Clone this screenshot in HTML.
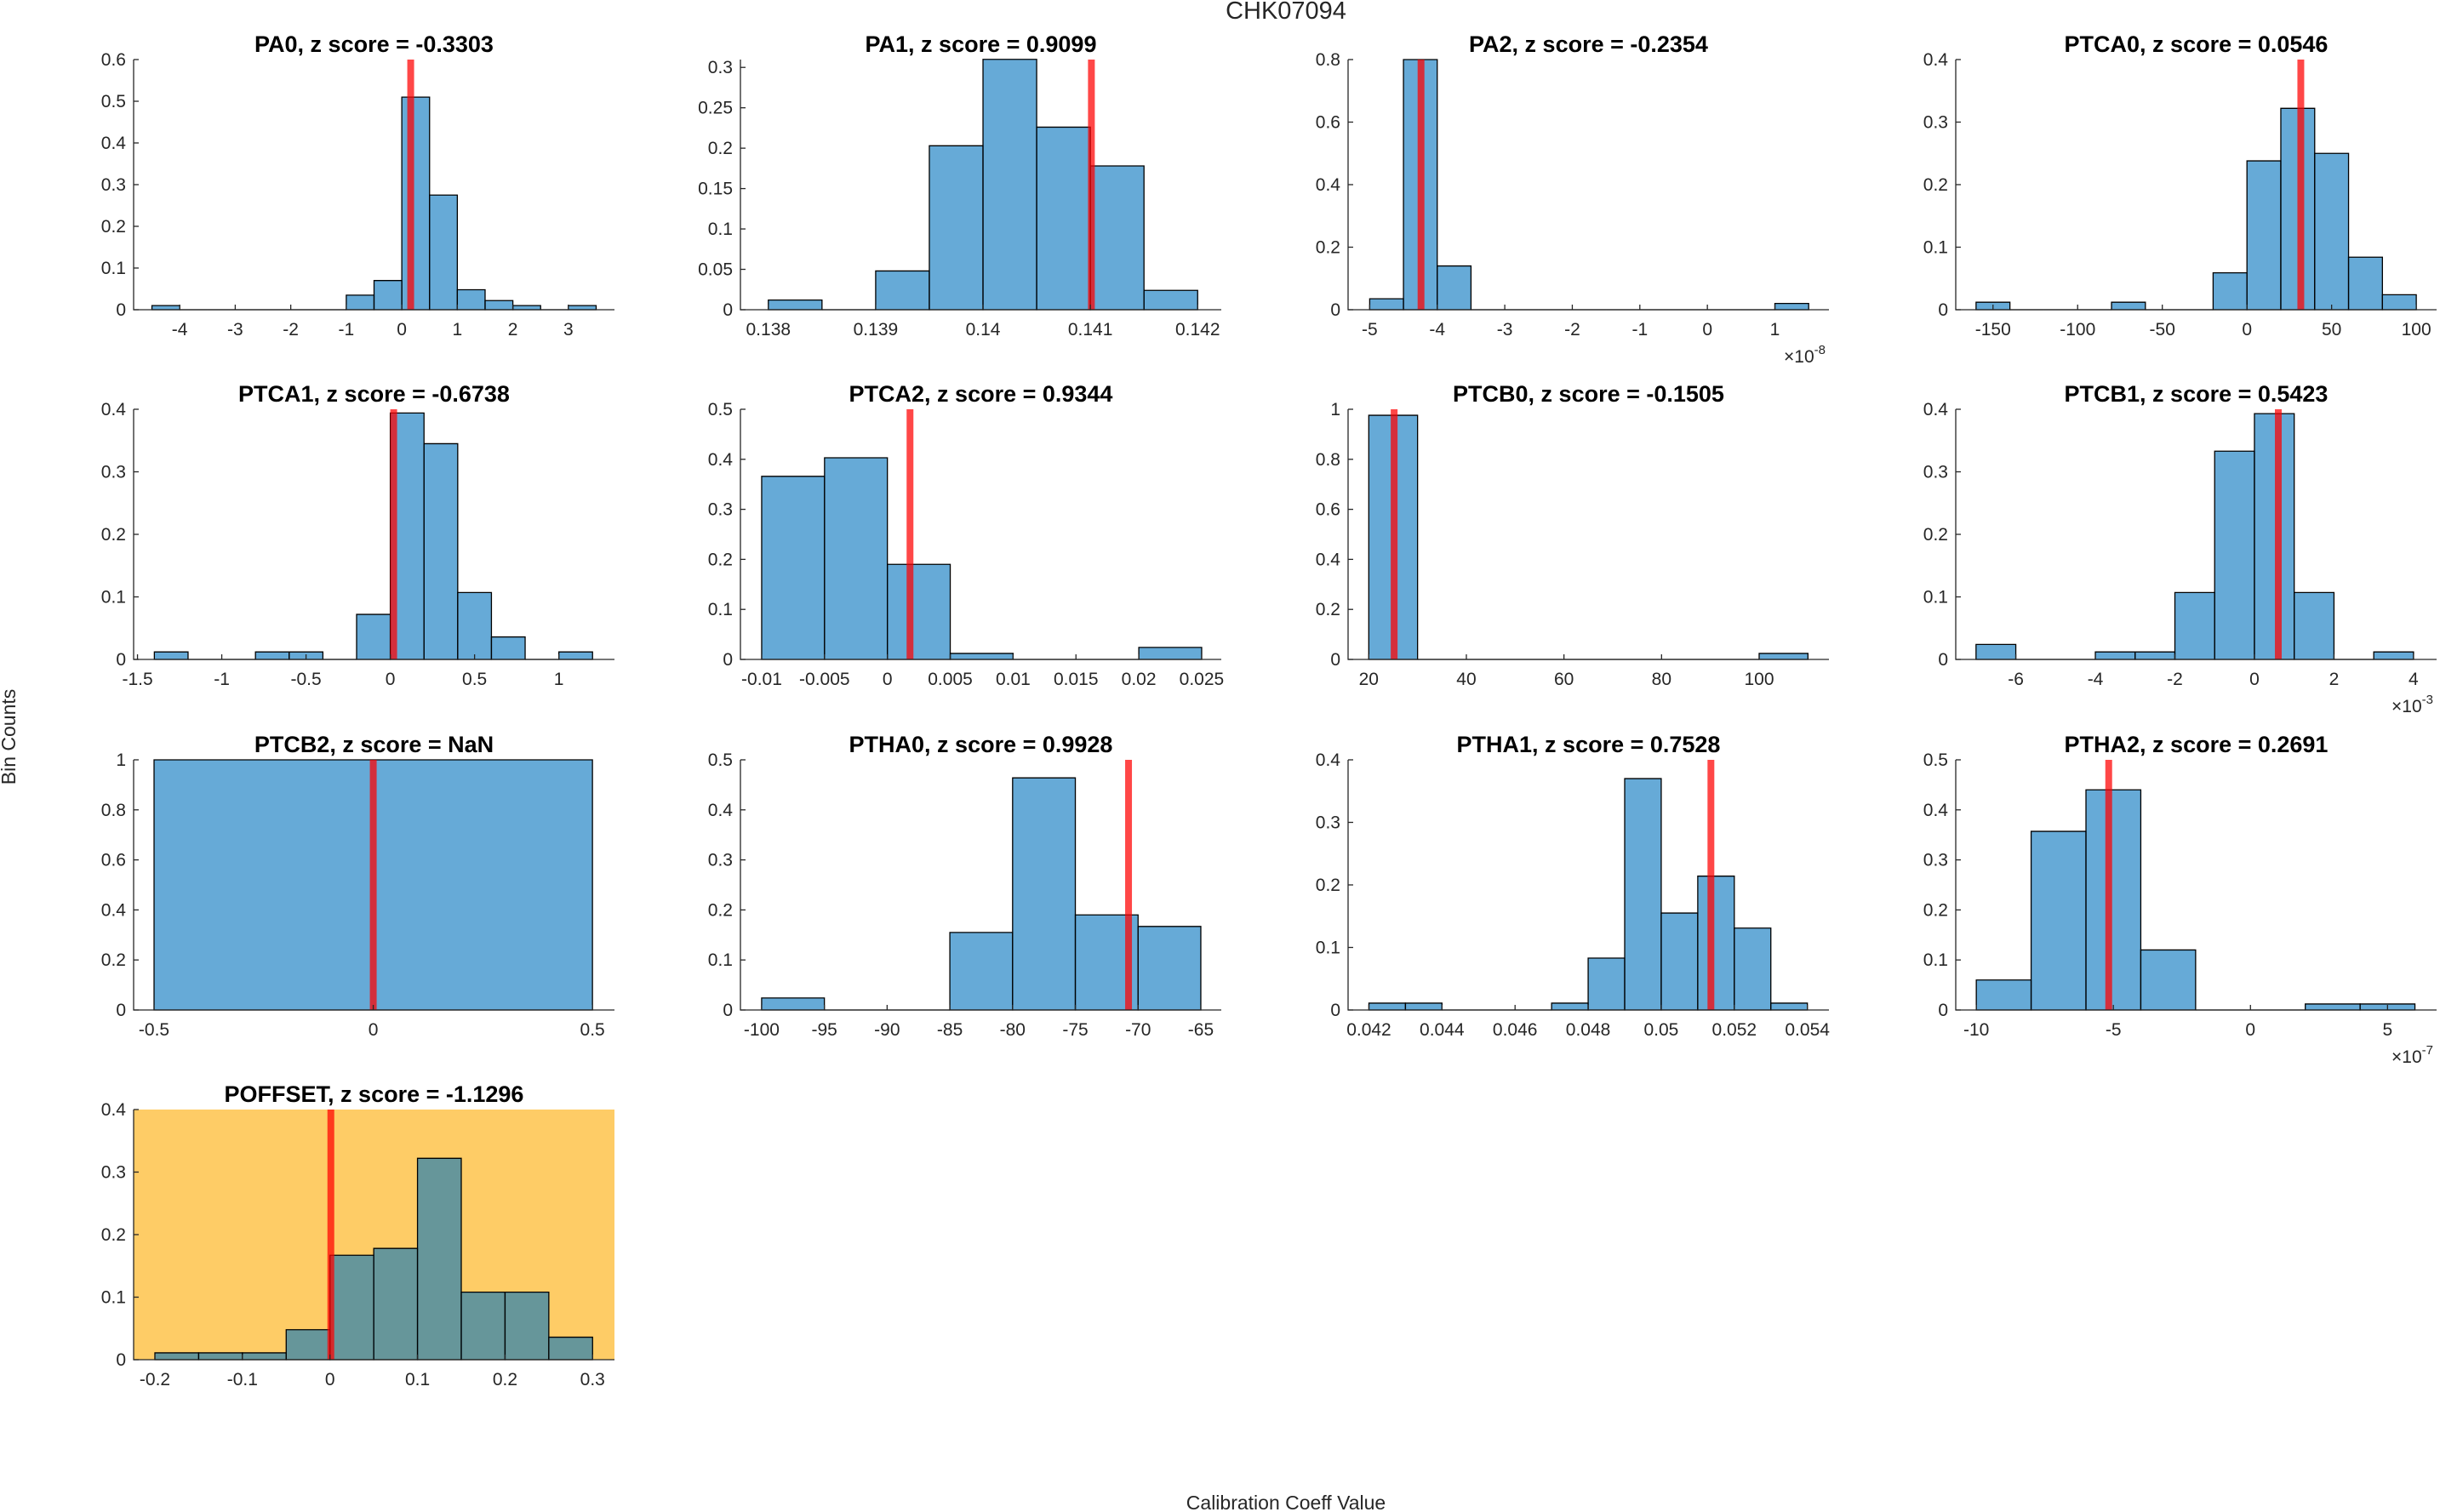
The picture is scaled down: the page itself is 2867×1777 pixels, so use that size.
<!DOCTYPE html>
<html><head><meta charset="utf-8"><style>
html,body{margin:0;padding:0;background:#fff;}
svg{display:block;font-family:"Liberation Sans",sans-serif;}
</style></head><body>
<svg id="fig" width="2867" height="1777" viewBox="0 0 2867 1777" xmlns="http://www.w3.org/2000/svg">
<text x="1511" y="22" font-size="29" fill="#262626" text-anchor="middle">CHK07094</text>
<text x="1511" y="1774" font-size="23" fill="#262626" text-anchor="middle">Calibration Coeff Value</text>
<text x="0" y="0" font-size="23" fill="#262626" text-anchor="middle" transform="translate(18,866) rotate(-90)">Bin Counts</text>
</svg>
<script>
const panelNames = ["PA0","PA1","PA2","PTCA0","PTCA1","PTCA2","PTCB0","PTCB1","PTCB2","PTHA0","PTHA1","PTHA2","POFFSET"];
const zScores = ["-0.3303","0.9099","-0.2354","0.0546","-0.6738","0.9344","-0.1505","0.5423","NaN","0.9928","0.7528","0.2691","-1.1296"];
const xMins = [-4.83,0.13774,-5.32,-172,-1.523,-0.01169,15.76,-7.51,-0.5466,-101.69,0.04143,-10.75,-0.2243];
const xMaxs = [3.83,0.14222,1.8,112,1.33,0.02656,114.3,4.58,0.5502,-63.37,0.05459,6.79,0.325];
const yMaxs = [0.6,0.3097,0.8,0.4,0.4,0.5,1,0.4,1,0.5,0.4,0.5,0.4];
const binStarts = [-4.5,0.138,-5,-160,-1.4,-0.01,20,-7,-0.5,-100,0.042,-10,-0.2];
const binWidths = [0.5,0.0005,0.5,20,0.2,0.005,10,1,1,5,0.001,2,0.05];
const binHeights = [
 [0.01,0,0,0,0,0,0,0.035,0.07,0.51,0.275,0.048,0.022,0.01,0,0.01],
 [0.012,0,0.048,0.203,0.31,0.226,0.178,0.024],
 [0.035,0.8,0.14,0,0,0,0,0,0,0,0,0,0.02],
 [0.012,0,0,0,0.012,0,0,0.059,0.238,0.322,0.25,0.084,0.024],
 [0.012,0,0,0.012,0.012,0,0.072,0.394,0.345,0.107,0.036,0,0.012],
 [0.366,0.403,0.19,0.012,0,0,0.024],
 [0.976,0,0,0,0,0,0,0,0.024],
 [0.024,0,0,0.012,0.012,0.107,0.333,0.393,0.107,0,0.012],
 [1],
 [0.024,0,0,0.155,0.464,0.19,0.167],
 [0.011,0.011,0,0,0,0.011,0.083,0.37,0.155,0.214,0.131,0.011],
 [0.06,0.357,0.44,0.12,0,0,0.012,0.012],
 [0.011,0.011,0.011,0.048,0.167,0.178,0.322,0.108,0.108,0.036]
];
const refValues = [0.16,0.14101,-4.24,31.8,0.02,0.0018,25.2,0.6,0,-70.76,0.05136,-5.17,0.001];
const xTicks = [
 [-4,-3,-2,-1,0,1,2,3],
 [0.138,0.139,0.14,0.141,0.142],
 [-5,-4,-3,-2,-1,0,1],
 [-150,-100,-50,0,50,100],
 [-1.5,-1,-0.5,0,0.5,1],
 [-0.01,-0.005,0,0.005,0.01,0.015,0.02,0.025],
 [20,40,60,80,100],
 [-6,-4,-2,0,2,4],
 [-0.5,0,0.5],
 [-100,-95,-90,-85,-80,-75,-70,-65],
 [0.042,0.044,0.046,0.048,0.05,0.052,0.054],
 [-10,-5,0,5],
 [-0.2,-0.1,0,0.1,0.2,0.3]
];
const yTicks = [
 [0,0.1,0.2,0.3,0.4,0.5,0.6],
 [0,0.05,0.1,0.15,0.2,0.25,0.3],
 [0,0.2,0.4,0.6,0.8],
 [0,0.1,0.2,0.3,0.4],
 [0,0.1,0.2,0.3,0.4],
 [0,0.1,0.2,0.3,0.4,0.5],
 [0,0.2,0.4,0.6,0.8,1],
 [0,0.1,0.2,0.3,0.4],
 [0,0.2,0.4,0.6,0.8,1],
 [0,0.1,0.2,0.3,0.4,0.5],
 [0,0.1,0.2,0.3,0.4],
 [0,0.1,0.2,0.3,0.4,0.5],
 [0,0.1,0.2,0.3,0.4]
];
const exponents = ["", "", "-8", "", "", "", "", "-3", "", "", "", "-7", ""];
const highlighted = [false,false,false,false,false,false,false,false,false,false,false,false,true];

const NS = "http://www.w3.org/2000/svg";
const svg = document.getElementById("fig");
const colLefts = [157,870,1584,2298], rowTops = [70,481,893,1304];
const W = 565, H = 294;
function mk(tag, attrs, parent){const e=document.createElementNS(NS,tag);for(const k in attrs)e.setAttribute(k,attrs[k]);(parent||svg).appendChild(e);return e;}
function fmt(v){return String(+v.toFixed(6));}

panelNames.forEach((name,i)=>{
  const L = colLefts[i%4], T = rowTops[Math.floor(i/4)], B = T+H, R = L+W;
  const sx = v => L + (v - xMins[i])/(xMaxs[i]-xMins[i])*W;
  const sy = v => B - v/yMaxs[i]*H;
  const g = mk("g",{});
  
  
  if(highlighted[i]){
    const bg = mk("rect",{x:L,y:T,width:W,height:H,fill:"#FECC66"},g);
    
    
  }
  binHeights[i].forEach((h,j)=>{
    const x0 = sx(binStarts[i]+j*binWidths[i]), x1 = sx(binStarts[i]+(j+1)*binWidths[i]);
    const y = sy(h);
    const p = mk("path",{d:`M${x0} ${B}V${y}H${x1}V${B}Z`,fill:"rgba(0,114,189,0.6)",stroke:"#000","stroke-width":1.3},g);
    
    
  });
  const rx = sx(refValues[i]);
  const rl = mk("line",{x1:rx,x2:rx,y1:T,y2:B,stroke:"rgba(255,0,0,0.72)","stroke-width":8},g);
  
  
  const ax = mk("path",{d:`M${L} ${T}V${B}H${R}`,fill:"none",stroke:"#262626","stroke-width":1.3},g);
  
  
  xTicks[i].forEach(v=>{
    const x = sx(v);
    mk("line",{x1:x,x2:x,y1:B,y2:B-6,stroke:"#262626","stroke-width":1.3},g);
    const t = mk("text",{x:x,y:B+30,"font-size":21,fill:"#262626","text-anchor":"middle"},g);
    t.textContent = fmt(v);
    
    
  });
  yTicks[i].forEach(v=>{
    const y = sy(v);
    mk("line",{x1:L,x2:L+6,y1:y,y2:y,stroke:"#262626","stroke-width":1.3},g);
    const t = mk("text",{x:L-9,y:y+7,"font-size":21,fill:"#262626","text-anchor":"end"},g);
    t.textContent = fmt(v);
    
    
  });
  const tt = mk("text",{x:L+W/2,y:T-9,"font-size":27,"font-weight":"bold",fill:"#000","text-anchor":"middle"},g);
  tt.textContent = name+", z score = "+zScores[i];
  
  
  if(exponents[i]){
    const ex = mk("text",{x:R-4,y:B+62,"font-size":21,fill:"#262626","text-anchor":"end"},g);
    
    
    const t1 = mk("tspan",{},ex); t1.textContent = "×10";
    const t2 = mk("tspan",{dy:-10,"font-size":15},ex); t2.textContent = exponents[i];
  }
});
</script>
</body></html>
